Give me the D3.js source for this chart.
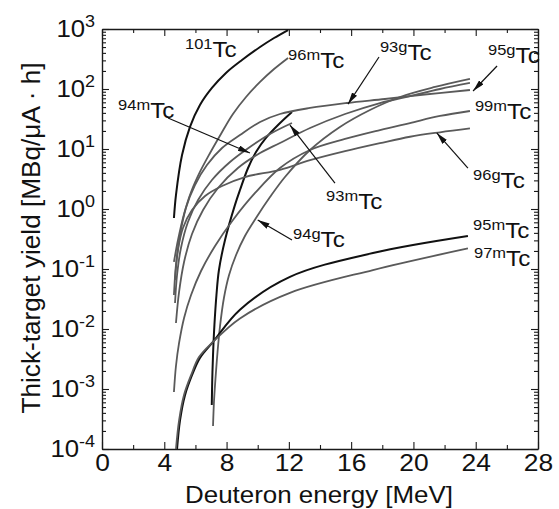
<!DOCTYPE html>
<html>
<head>
<meta charset="utf-8">
<script src="https://cdn.jsdelivr.net/npm/d3@7"></script>
<style>
  body { margin: 0; background: #fff; }
  svg text { font-family: "Liberation Sans", Arial, Helvetica, sans-serif; fill: #111; }
</style>
</head>
<body>
<svg id="chart" width="559" height="509"></svg>
<script>
// Axis ticks
const xMajorTicks = [0, 4, 8, 12, 16, 20, 24, 28];
const xMinorTicks = [2, 6, 10, 14, 18, 22, 26];
const yDecades = [-4, -3, -2, -1, 0, 1, 2, 3];

// Thick-target yields [MBq/uA h] vs deuteron energy [MeV], one array per isotope
const tc101 = [[4.62,0.708],[4.75,1.71],[5.14,7.94],[5.65,23.3],[6.29,54.1],[7.06,104],[7.96,185],[8.99,304],[10.15,501],[11.05,708],[11.95,962]];
const tc96m = [[4.62,0.131],[4.88,0.304],[5.27,0.826],[5.72,1.92],[6.29,4.14],[6.94,8.58],[7.64,17.8],[8.41,38.3],[9.25,73.6],[10.15,131],[11.05,215],[11.95,329]];
const tc94m = [[7.05,5.41e-4],[7.08,1.41e-3],[7.13,3.69e-3],[7.22,0.0117],[7.35,0.0369],[7.51,0.0962],[7.90,0.304],[8.54,1.17],[8.86,2.07],[9.38,4.82],[9.89,8.91],[10.53,15.3],[11.37,26.1],[12.2,41.4]];
const tc93m = [[4.69,0.0271],[4.82,0.0794],[5.07,0.224],[5.52,0.607],[6.17,1.41],[7.06,3.04],[8.22,6.07],[9.5,10.8],[10.79,17.8],[12.2,27.1]];
const tc93g = [[4.62,0.0369],[4.75,0.117],[5.01,0.369],[5.39,1.04],[5.97,2.51],[6.74,5.41],[7.71,10.4],[8.86,17.1],[10.15,28.2],[11.43,38.3],[13.36,48.3],[15.73,58.4],[18.17,68.1],[20.42,79.4],[23.63,96.2]];
const tc95g = [[4.75,0.0126],[4.95,0.0414],[5.27,0.131],[5.78,0.383],[6.49,0.962],[7.45,2.24],[8.73,4.82],[10.15,8.58],[11.43,12.6],[13.36,22.4],[15.61,38.3],[17.85,58.4],[19.78,76.4],[21.71,100],[23.63,126]];
const tc94g = [[7.13,2.42e-4],[7.19,6.07e-4],[7.29,1.52e-3],[7.42,4.14e-3],[7.58,0.0112],[7.83,0.0329],[8.16,0.0794],[8.61,0.171],[9.18,0.355],[9.89,0.708],[10.79,1.58],[11.75,3.41],[13.36,9.62],[15.28,23.3],[17.21,44.7],[19.14,73.6],[21.39,108],[23.63,147]];
const tc99m = [[4.62,8.91e-4],[4.75,2.42e-3],[4.95,5.85e-3],[5.27,0.0153],[5.72,0.0369],[6.36,0.0926],[7.26,0.242],[8.41,0.656],[9.83,1.85],[11.43,4.82],[13.36,9.62],[15.61,14.7],[17.85,20.7],[19.78,27.1],[21.71,35.5],[23.63,43]];
const tc96g = [[4.69,0.0656],[4.88,0.207],[5.2,0.482],[5.78,0.962],[6.62,1.65],[7.71,2.42],[9.18,3.41],[11.43,4.5],[13.36,6.5],[15.61,9.2],[17.85,12.5],[19.78,16],[21.71,19],[23.63,22]];
const tc95m = [[4.82,1.0e-4],[5.01,3.0e-4],[5.33,7.9e-4],[5.78,1.7e-3],[6.29,3.3e-3],[7.13,6.1e-3],[8.86,0.021],[12.07,0.074],[17.4,0.185],[23.5,0.355]];
const tc97m = [[4.75,1.0e-4],[4.95,3.0e-4],[5.27,8.0e-4],[5.72,1.7e-3],[6.23,3.4e-3],[7.13,6.1e-3],[8.86,0.015],[12.07,0.04],[17.4,0.096],[23.5,0.22]];

// Isotope names, the curve of each and whether it is drawn dark
const isotopes  = ["101", "96m", "94m", "93m", "93g", "95g", "94g", "99m", "96g", "95m", "97m"];
const yieldData = [tc101, tc96m, tc94m, tc93m, tc93g, tc95g, tc94g, tc99m, tc96g, tc95m, tc97m];
const darkCurve = [true, false, true, false, false, false, false, false, false, true, false];

// Curve labels, anchored in data units (energy, yield)
const labelIso = ["101", "96m", "93g", "95g", "94m", "99m", "93m", "96g", "94g", "95m", "97m"];
const labelAt  = [[5.33,341],[11.95,224],[17.85,304],[24.79,271],[1.03,32.8],[23.95,31.6],[14.39,1.0],[23.83,2.24],[12.27,0.233],[23.83,0.329],[23.89,0.112]];
// Leader arrows: tail and head, in data units
const arrowFrom = [[17.79,341],[25.37,242],[4.24,32.8],[14.96,2.7],[23.5,4.8],[12.2,0.304]];
const arrowTo   = [[15.8,56],[23.83,92.6],[9.5,8.6],[12.07,25],[21.5,18.5],[10.0,0.656]];

const plot = { left: 102, right: 538, top: 29, bottom: 449 };

const svg = d3.select("#chart");
const x = d3.scaleLinear().domain([0, 28]).range([plot.left, plot.right]);
const y = d3.scaleLog().domain([1e-4, 1e3]).range([plot.bottom, plot.top]);

const majorY = yDecades.map(p => Math.pow(10, p));
const minorY = [];
yDecades.slice(0, -1).forEach(p => { for (let k = 2; k <= 9; k++) minorY.push(k * Math.pow(10, p)); });

// Widen glyphs slightly by stretching each text to a longer length
function widen(sel, k) {
  sel.each(function() {
    const len = this.getComputedTextLength();
    d3.select(this).attr("textLength", len * k).attr("lengthAdjust", "spacingAndGlyphs");
  });
}

const axisColor = "#1a1a1a";
function styleAxis(g) {
  g.select(".domain").attr("stroke", axisColor).attr("stroke-width", 1.4);
  g.selectAll(".tick line").attr("stroke", axisColor).attr("stroke-width", 1.1);
}

// Bottom axis with labels, top axis mirrored; ticks point inward
svg.append("g").attr("transform", `translate(0,${plot.bottom})`)
  .call(d3.axisBottom(x).tickValues(xMajorTicks).tickSizeInner(-7).tickSizeOuter(0).tickPadding(5).tickFormat(d3.format("d")))
  .call(styleAxis)
  .call(g => g.selectAll(".tick text").attr("font-size", 24).attr("fill", "#111").call(widen, 1.1));
svg.append("g").attr("transform", `translate(0,${plot.bottom})`)
  .call(d3.axisBottom(x).tickValues(xMinorTicks).tickSizeInner(-4).tickSizeOuter(0).tickFormat(""))
  .call(styleAxis).call(g => g.select(".domain").remove());
svg.append("g").attr("transform", `translate(0,${plot.top})`)
  .call(d3.axisTop(x).tickValues(xMajorTicks).tickSizeInner(-7).tickSizeOuter(0).tickFormat(""))
  .call(styleAxis);
svg.append("g").attr("transform", `translate(0,${plot.top})`)
  .call(d3.axisTop(x).tickValues(xMinorTicks).tickSizeInner(-4).tickSizeOuter(0).tickFormat(""))
  .call(styleAxis).call(g => g.select(".domain").remove());

// Left log axis with power-of-ten labels, right axis mirrored
svg.append("g").attr("transform", `translate(${plot.left},0)`)
  .call(d3.axisLeft(y).tickValues(majorY).tickSizeInner(-7).tickSizeOuter(0).tickPadding(7).tickFormat(() => ""))
  .call(styleAxis)
  .call(g => g.selectAll(".tick text").each(function(d) {
    const t = d3.select(this).attr("font-size", 23).attr("fill", "#111");
    t.append("tspan").text("10");
    t.append("tspan").attr("font-size", 16).attr("dy", "-0.62em").text(String(Math.round(Math.log10(d))));
  }).call(widen, 1.12));
svg.append("g").attr("transform", `translate(${plot.left},0)`)
  .call(d3.axisLeft(y).tickValues(minorY).tickSizeInner(-4).tickSizeOuter(0).tickFormat(""))
  .call(styleAxis).call(g => g.select(".domain").remove());
svg.append("g").attr("transform", `translate(${plot.right},0)`)
  .call(d3.axisRight(y).tickValues(majorY).tickSizeInner(-7).tickSizeOuter(0).tickFormat(""))
  .call(styleAxis);
svg.append("g").attr("transform", `translate(${plot.right},0)`)
  .call(d3.axisRight(y).tickValues(minorY).tickSizeInner(-4).tickSizeOuter(0).tickFormat(""))
  .call(styleAxis).call(g => g.select(".domain").remove());

// Axis titles
svg.append("text")
  .attr("x", (plot.left + plot.right) / 2 - 1).attr("y", 503)
  .attr("text-anchor", "middle").attr("font-size", 24)
  .attr("textLength", 268).attr("lengthAdjust", "spacingAndGlyphs")
  .text("Deuteron energy [MeV]");
svg.append("text")
  .attr("transform", `translate(40,238) rotate(-90)`)
  .attr("text-anchor", "middle").attr("font-size", 25)
  .attr("textLength", 351).attr("lengthAdjust", "spacingAndGlyphs")
  .text("Thick-target yield [MBq/μA · h]");

// Yield curves
const line = d3.line().x(d => x(d[0])).y(d => y(d[1])).curve(d3.curveCatmullRom.alpha(0.5));
svg.append("g").selectAll("path")
  .data(yieldData)
  .join("path")
  .attr("d", line)
  .attr("fill", "none")
  .attr("stroke", (d, i) => darkCurve[i] ? "#111" : "#5a5a5a")
  .attr("stroke-width", (d, i) => darkCurve[i] ? 2 : 1.8)
  .attr("stroke-linecap", "butt");

// Arrowhead marker
svg.append("defs").append("marker")
  .attr("id", "head").attr("viewBox", "0 0 12 6")
  .attr("refX", 12).attr("refY", 3)
  .attr("markerWidth", 12).attr("markerHeight", 6)
  .attr("markerUnits", "userSpaceOnUse").attr("orient", "auto")
  .append("path").attr("d", "M0,0 L12,3 L0,6 Z").attr("fill", "#111");

svg.append("g").selectAll("line")
  .data(arrowFrom)
  .join("line")
  .attr("x1", d => x(d[0])).attr("y1", d => y(d[1]))
  .attr("x2", (d, i) => x(arrowTo[i][0])).attr("y2", (d, i) => y(arrowTo[i][1]))
  .attr("stroke", "#111").attr("stroke-width", 1.2)
  .attr("marker-end", "url(#head)");

// Isotope labels: mass number as superscript before the element symbol
const lab = svg.append("g").selectAll("text")
  .data(labelIso)
  .join("text")
  .attr("x", (d, i) => x(labelAt[i][0]))
  .attr("y", (d, i) => y(labelAt[i][1]));
lab.append("tspan").attr("font-size", 15).attr("dy", "-8").text(d => d);
lab.append("tspan").attr("font-size", 22).attr("dy", "8").text("Tc");
lab.call(widen, 1.1);
</script>
</body>
</html>
